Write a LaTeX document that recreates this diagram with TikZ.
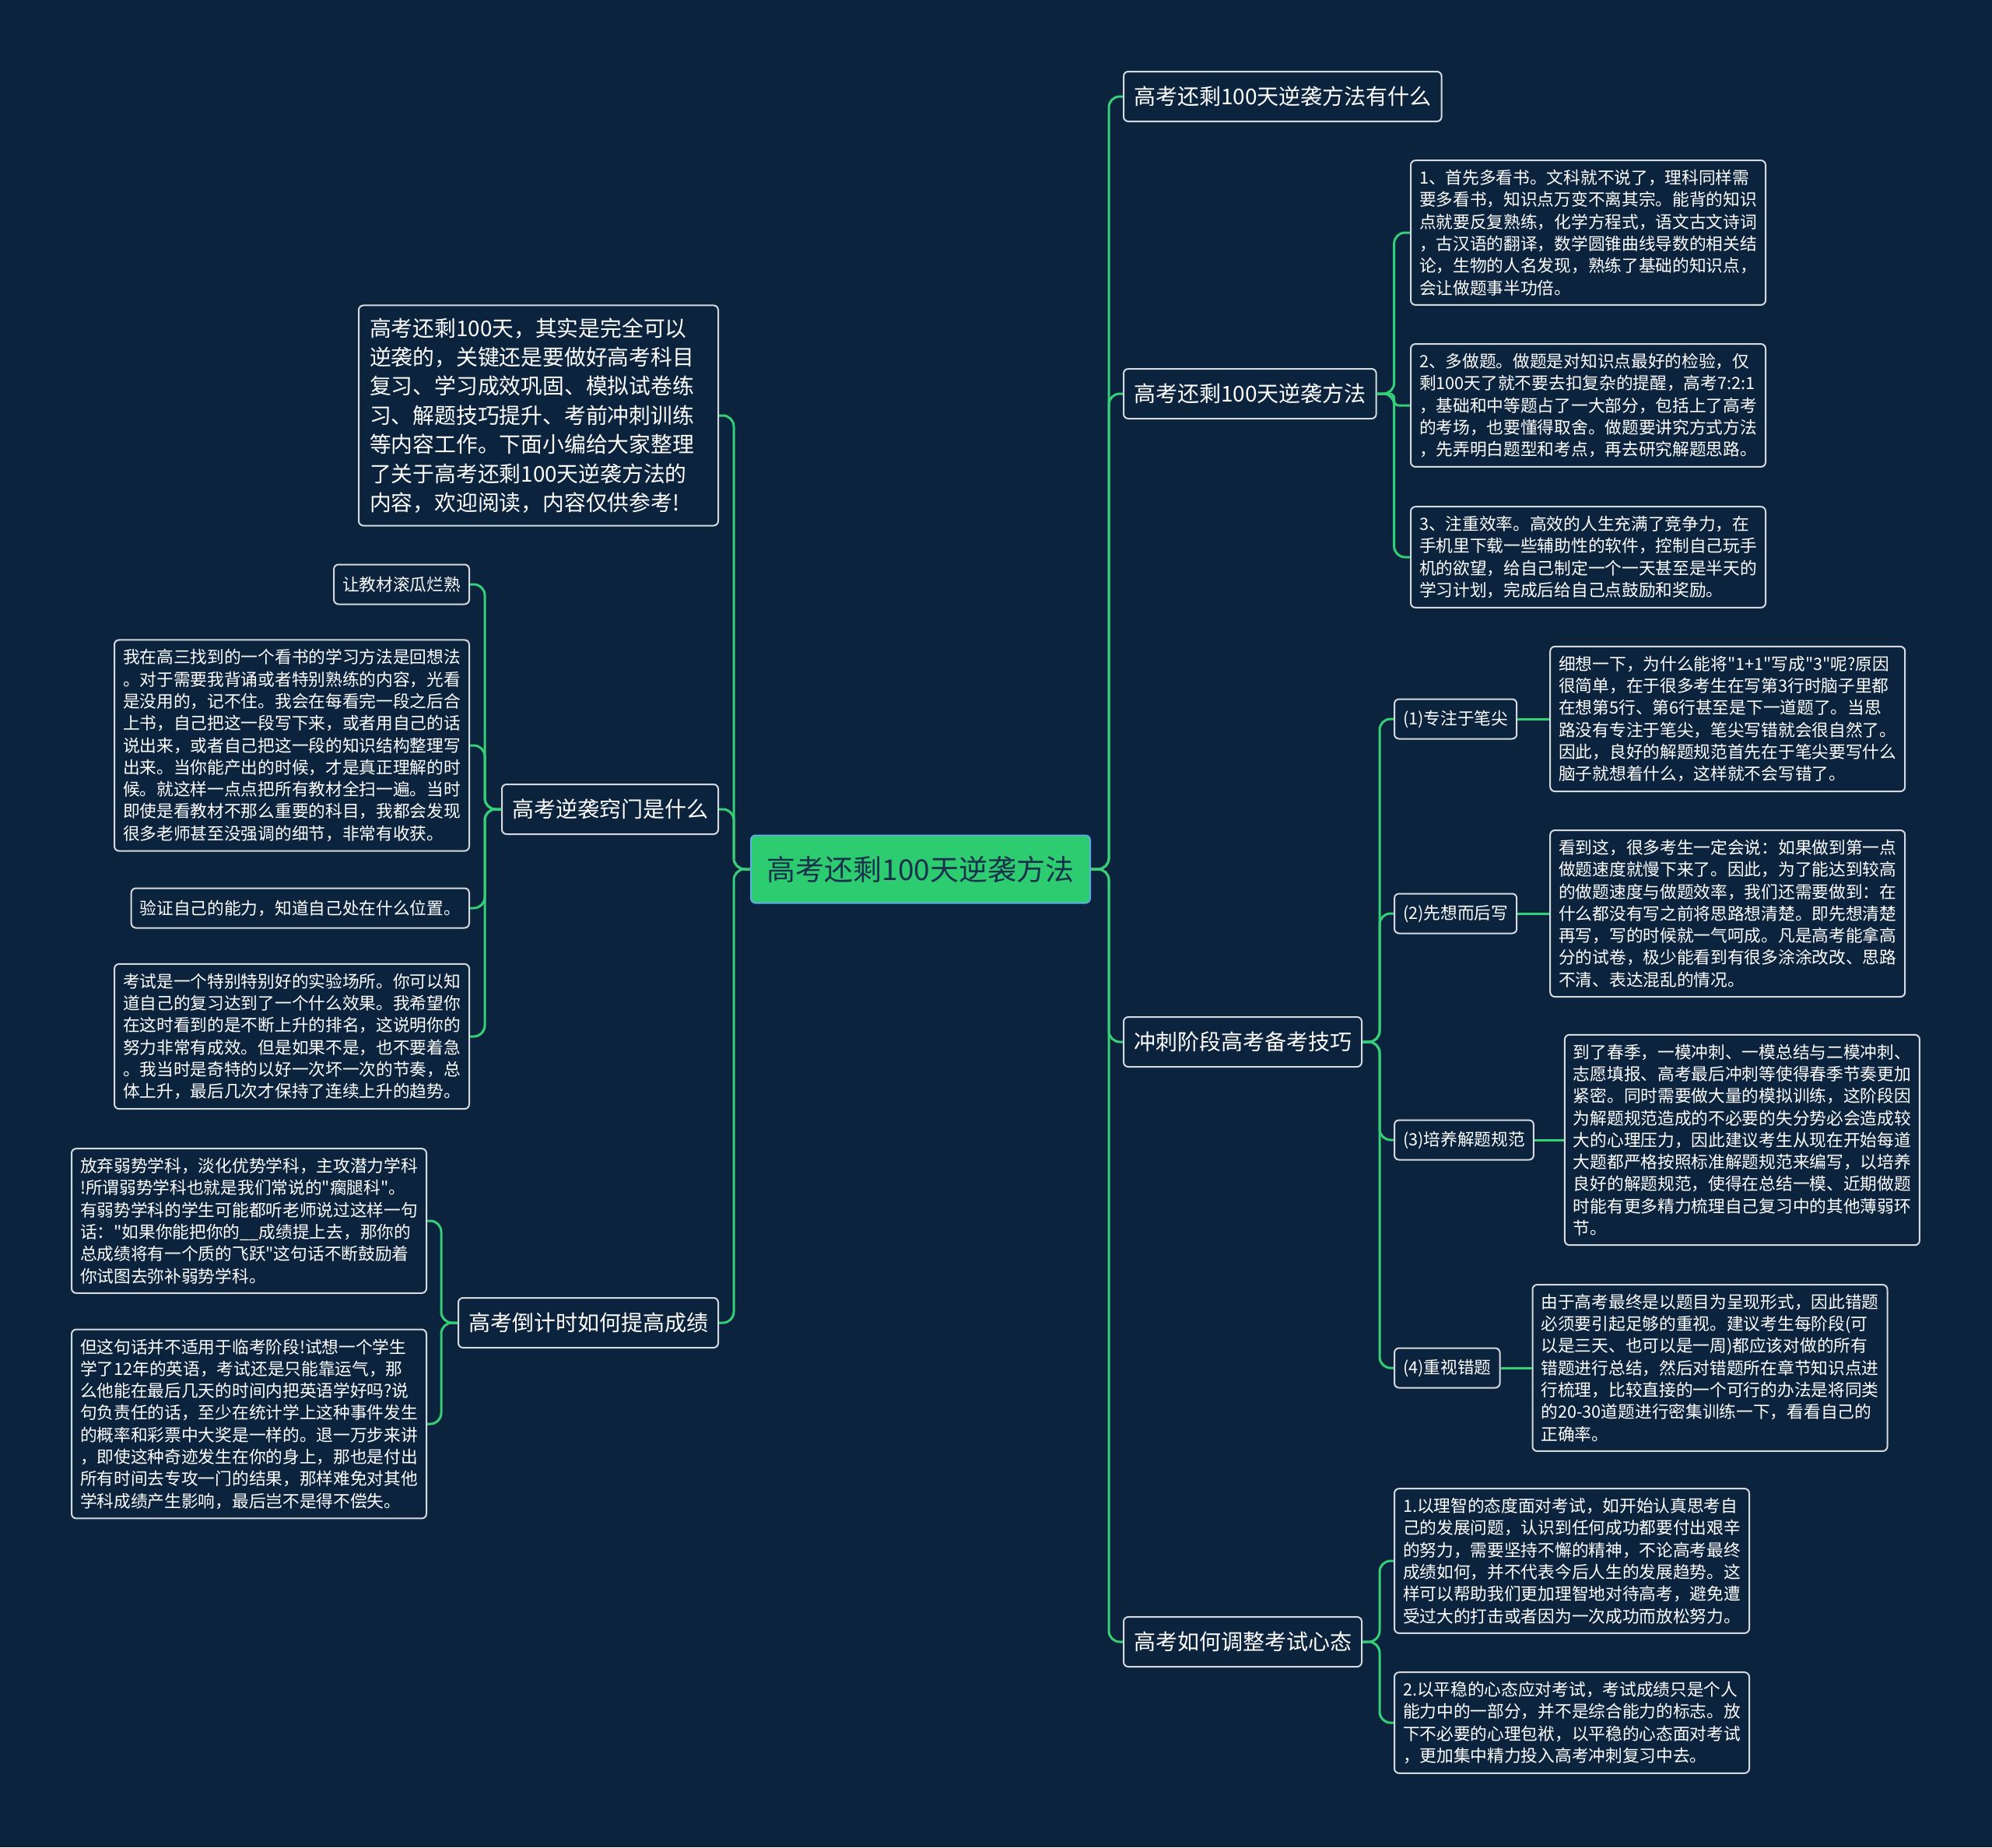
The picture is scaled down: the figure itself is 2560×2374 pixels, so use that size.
\documentclass[tikz,border=0pt]{standalone}
\usepackage{fontspec}
\setmainfont{Noto Sans CJK SC}[Ligatures=TeXOff]
\usetikzlibrary{positioning}
\definecolor{bg}{HTML}{0C233E}
\definecolor{linkgreen}{HTML}{35CF78}
\definecolor{rootgreen}{HTML}{2ECC71}
\definecolor{rootline}{HTML}{5DADE2}
\definecolor{roottext}{HTML}{17324A}
\definecolor{boxline}{HTML}{D5DAE0}
\tikzset{
  root/.style={draw=rootline, line width=1pt, fill=rootgreen, text=roottext, rounded corners=3pt, minimum width=218pt, minimum height=43.5pt, font=\fontsize{18.5pt}{22pt}\selectfont},
  topic/.style={draw=boxline, line width=1pt, rounded corners=3pt, text=white, inner xsep=6.5pt, minimum height=32pt, font=\fontsize{14pt}{17pt}\selectfont},
  tag/.style={draw=boxline, line width=1pt, rounded corners=3pt, text=white, inner xsep=5.5pt, minimum height=25.5pt, font=\fontsize{10.85pt}{13pt}\selectfont},
  leaf/.style={draw=boxline, line width=1pt, rounded corners=3pt, text=white, align=left, inner xsep=5.5pt, inner ysep=6pt, font=\fontsize{10.85pt}{14.15pt}\selectfont},
  intro/.style={leaf, text width=217pt, inner xsep=7pt, inner ysep=8pt, font=\fontsize{13.9pt}{18.7pt}\selectfont},
  link/.style={draw=linkgreen, line width=1.5pt, rounded corners=7pt},
}

\begin{document}
\begin{tikzpicture}[x=0.5pt, y=-0.5pt]
  \useasboundingbox (0,0) rectangle (2560,2374);
  \fill[bg] (0,0) rectangle (2560,2374);

  \node[root] (root) at (1183,1117) {高考还剩100天逆袭方法};

  \node[topic, anchor=west] (q1) at (1443,124) {高考还剩100天逆袭方法有什么};
  \node[topic, anchor=west] (q2) at (1443,506) {高考还剩100天逆袭方法};
  \node[topic, anchor=west] (q3) at (1443,1339) {冲刺阶段高考备考技巧};
  \node[topic, anchor=west] (q4) at (1443,2110) {高考如何调整考试心态};

  \node[leaf, anchor=west] (q2a) at (1812,299) {1、首先多看书。文科就不说了，理科同样需\\要多看书，知识点万变不离其宗。能背的知识\\点就要反复熟练，化学方程式，语文古文诗词\\，古汉语的翻译，数学圆锥曲线导数的相关结\\论，生物的人名发现，熟练了基础的知识点，\\会让做题事半功倍。};
  \node[leaf, anchor=west] (q2b) at (1812,521) {2、多做题。做题是对知识点最好的检验，仅\\剩100天了就不要去扣复杂的提醒，高考7:2:1\\，基础和中等题占了一大部分，包括上了高考\\的考场，也要懂得取舍。做题要讲究方式方法\\，先弄明白题型和考点，再去研究解题思路。};
  \node[leaf, anchor=west] (q2c) at (1812,716) {3、注重效率。高效的人生充满了竞争力，在\\手机里下载一些辅助性的软件，控制自己玩手\\机的欲望，给自己制定一个一天甚至是半天的\\学习计划，完成后给自己点鼓励和奖励。};

  \node[tag, anchor=west] (q3a) at (1791,924) {(1)专注于笔尖};
  \node[tag, anchor=west] (q3b) at (1791,1174) {(2)先想而后写};
  \node[tag, anchor=west] (q3c) at (1791,1465) {(3)培养解题规范};
  \node[tag, anchor=west] (q3d) at (1791,1758) {(4)重视错题};
  \node[leaf, right=20.5pt of q3a] (q3at) {细想一下，为什么能将"1+1"写成"3"呢?原因\\很简单，在于很多考生在写第3行时脑子里都\\在想第5行、第6行甚至是下一道题了。当思\\路没有专注于笔尖，笔尖写错就会很自然了。\\因此，良好的解题规范首先在于笔尖要写什么\\脑子就想着什么，这样就不会写错了。};
  \node[leaf, right=20.5pt of q3b] (q3bt) {看到这，很多考生一定会说：如果做到第一点\\做题速度就慢下来了。因此，为了能达到较高\\的做题速度与做题效率，我们还需要做到：在\\什么都没有写之前将思路想清楚。即先想清楚\\再写，写的时候就一气呵成。凡是高考能拿高\\分的试卷，极少能看到有很多涂涂改改、思路\\不清、表达混乱的情况。};
  \node[leaf, right=19pt of q3c] (q3ct) {到了春季，一模冲刺、一模总结与二模冲刺、\\志愿填报、高考最后冲刺等使得春季节奏更加\\紧密。同时需要做大量的模拟训练，这阶段因\\为解题规范造成的不必要的失分势必会造成较\\大的心理压力，因此建议考生从现在开始每道\\大题都严格按照标准解题规范来编写，以培养\\良好的解题规范，使得在总结一模、近期做题\\时能有更多精力梳理自己复习中的其他薄弱环\\节。};
  \node[leaf, right=20pt of q3d] (q3dt) {由于高考最终是以题目为呈现形式，因此错题\\必须要引起足够的重视。建议考生每阶段(可\\以是三天、也可以是一周)都应该对做的所有\\错题进行总结，然后对错题所在章节知识点进\\行梳理，比较直接的一个可行的办法是将同类\\的20-30道题进行密集训练一下，看看自己的\\正确率。};

  \node[leaf, anchor=west] (q4a) at (1791,2006) {1.以理智的态度面对考试，如开始认真思考自\\己的发展问题，认识到任何成功都要付出艰辛\\的努力，需要坚持不懈的精神，不论高考最终\\成绩如何，并不代表今后人生的发展趋势。这\\样可以帮助我们更加理智地对待高考，避免遭\\受过大的打击或者因为一次成功而放松努力。};
  \node[leaf, anchor=west] (q4b) at (1791,2214) {2.以平稳的心态应对考试，考试成绩只是个人\\能力中的一部分，并不是综合能力的标志。放\\下不必要的心理包袱，以平稳的心态面对考试\\，更加集中精力投入高考冲刺复习中去。};

  \node[intro, anchor=east] (intro) at (924,534) {高考还剩100天，其实是完全可以\\逆袭的，关键还是要做好高考科目\\复习、学习成效巩固、模拟试卷练\\习、解题技巧提升、考前冲刺训练\\等内容工作。下面小编给大家整理\\了关于高考还剩100天逆袭方法的\\内容，欢迎阅读，内容仅供参考!};
  \node[topic, anchor=east] (p1) at (924,1040) {高考逆袭窍门是什么};
  \node[topic, anchor=east] (p2) at (924,1700) {高考倒计时如何提高成绩};

  \node[tag, anchor=east] (p1a) at (604,751) {让教材滚瓜烂熟};
  \node[leaf, anchor=east] (p1b) at (604,958) {我在高三找到的一个看书的学习方法是回想法\\。对于需要我背诵或者特别熟练的内容，光看\\是没用的，记不住。我会在每看完一段之后合\\上书，自己把这一段写下来，或者用自己的话\\说出来，或者自己把这一段的知识结构整理写\\出来。当你能产出的时候，才是真正理解的时\\候。就这样一点点把所有教材全扫一遍。当时\\即使是看教材不那么重要的科目，我都会发现\\很多老师甚至没强调的细节，非常有收获。};
  \node[tag, anchor=east] (p1c) at (604,1167) {验证自己的能力，知道自己处在什么位置。};
  \node[leaf, anchor=east] (p1d) at (604,1332) {考试是一个特别特别好的实验场所。你可以知\\道自己的复习达到了一个什么效果。我希望你\\在这时看到的是不断上升的排名，这说明你的\\努力非常有成效。但是如果不是，也不要着急\\。我当时是奇特的以好一次坏一次的节奏，总\\体上升，最后几次才保持了连续上升的趋势。};

  \node[leaf, anchor=east] (p2a) at (549,1569) {放弃弱势学科，淡化优势学科，主攻潜力学科\\!所谓弱势学科也就是我们常说的"瘸腿科"。\\有弱势学科的学生可能都听老师说过这样一句\\话："如果你能把你的\_\_成绩提上去，那你的\\总成绩将有一个质的飞跃"这句话不断鼓励着\\你试图去弥补弱势学科。};
  \node[leaf, anchor=east] (p2b) at (549,1830) {但这句话并不适用于临考阶段!试想一个学生\\学了12年的英语，考试还是只能靠运气，那\\么他能在最后几天的时间内把英语学好吗?说\\句负责任的话，至少在统计学上这种事件发生\\的概率和彩票中大奖是一样的。退一万步来讲\\，即使这种奇迹发生在你的身上，那也是付出\\所有时间去专攻一门的结果，那样难免对其他\\学科成绩产生影响，最后岂不是得不偿失。};

  \foreach \t in {q1,q2,q3,q4} \draw[link] (root.east) -- ++(23,0) |- (\t.west);
  \foreach \t in {intro,p1,p2} \draw[link] (root.west) -- ++(-21,0) |- (\t.east);
  \foreach \t in {q2a,q2c} \draw[link] (q2.east) -- ++(22,0) |- (\t.west);
  \draw[link, rounded corners=3pt] (q2.east) -- ++(22,0) |- (q2b.west);
  \foreach \t in {q3a,q3b,q3c,q3d} \draw[link] (q3.east) -- ++(22,0) |- (\t.west);
  \foreach \t in {q4a,q4b} \draw[link] (q4.east) -- ++(22,0) |- (\t.west);
  \foreach \t in {p1a,p1b,p1c,p1d} \draw[link] (p1.west) -- ++(-21,0) |- (\t.east);
  \foreach \t in {p2a,p2b} \draw[link] (p2.west) -- ++(-21,0) |- (\t.east);
  \draw[link] (q3a) -- (q3at); \draw[link] (q3b) -- (q3bt); \draw[link] (q3c) -- (q3ct); \draw[link] (q3d) -- (q3dt);
\end{tikzpicture}
\end{document}
